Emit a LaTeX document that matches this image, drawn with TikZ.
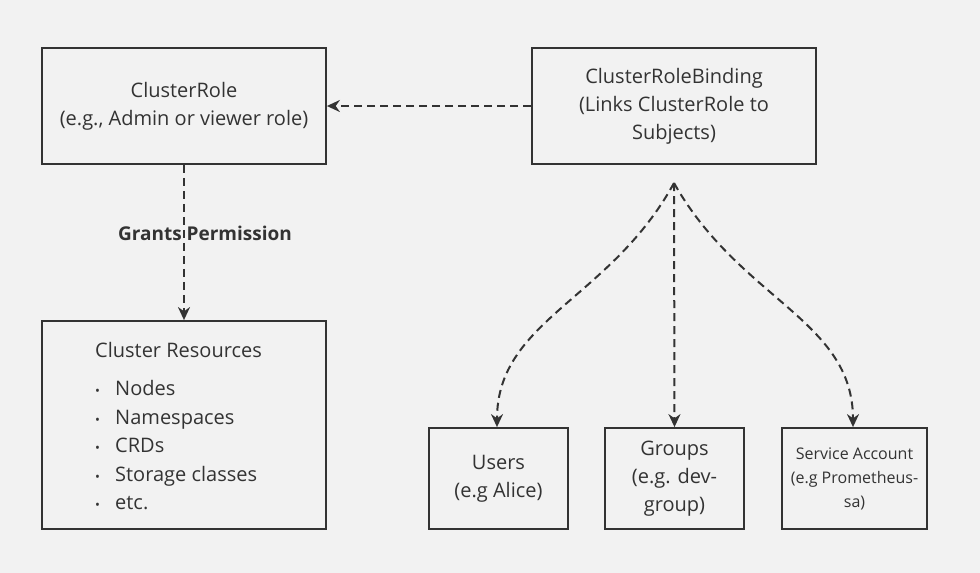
\documentclass[tikz,border=0pt]{standalone}
\usepackage{fontspec}
\setmainfont{Open Sans}
\usetikzlibrary{positioning,arrows.meta}

\definecolor{bgcol}{HTML}{F2F2F2}
\definecolor{linecol}{HTML}{333333}

\tikzset{
  box/.style={draw=linecol, line width=1.8pt, fill=bgcol, text=linecol, align=center,
    inner sep=0pt, font=\fontsize{20}{28}\selectfont},
  link/.style={draw=linecol, line width=2pt, dash pattern=on 8pt off 5pt,
    -{Stealth[length=13pt,width=12pt]}},
}

\newcommand{\itm}[1]{\makebox[20pt][l]{\fontsize{13}{13}\selectfont\textbullet}#1}

\begin{document}
\begin{tikzpicture}[x=1pt,y=-1pt]
\fill[bgcol] (0,0) rectangle (980,573);
\useasboundingbox (0,0) rectangle (980,573);

% top row
\node[box, minimum width=284pt, minimum height=116pt] (role) at (184,106)
  {ClusterRole\\(e.g., Admin or viewer role)};
\node[box, minimum width=284pt, minimum height=116pt] (binding) at (674,106)
  {ClusterRoleBinding\\(Links ClusterRole to\\Subjects)};

% resources
\node[box, minimum width=284pt, minimum height=208pt] (res) at (184,425) {};
\node[text=linecol, font=\fontsize{20}{28.5}\selectfont, align=left, anchor=north west,
  inner sep=0pt] (reslist) at (95,342)
  {Cluster Resources\\[10pt]
   \itm{Nodes}\\ \itm{Namespaces}\\ \itm{CRDs}\\ \itm{Storage classes}\\ \itm{etc.}};

% subjects
\node[box, minimum width=139pt, minimum height=101pt] (users) at (498.5,478.5)
  {Users\\(e.g Alice)};
\node[box, minimum width=139pt, minimum height=101pt] (groups) at (674.5,478.5)
  {Groups\\(e.g. dev-\\group)};
\node[box, minimum width=145pt, minimum height=101pt, font=\fontsize{16}{24}\selectfont]
  (sa) at (854.5,478.5) {Service Account\\(e.g Prometheus-\\sa)};

\coordinate (fork) at (674,183);

% connectors
\draw[link] (binding.west) -- (role.east);
\draw[link] (role.south) -- (res.north);
\node[text=linecol, font=\bfseries\fontsize{19}{22}\selectfont] (grants) at (205,233)
  {Grants Permission};
\draw[link] (fork) .. controls (610,300) and (497,320) .. (users.north -| 497,0);
\draw[link] (fork) -- (groups.north);
\draw[link] (fork) .. controls (740,300) and (853,320) .. (sa.north -| 853,0);
\end{tikzpicture}
\end{document}
